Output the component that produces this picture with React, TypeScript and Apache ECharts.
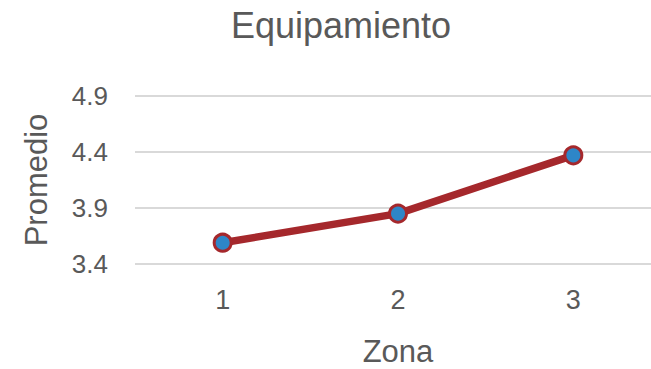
import React, { useEffect, useRef } from "react";
import * as echarts from "echarts";

const categories = ["1", "2", "3"];
const promedio = [3.59, 3.85, 4.37];
const yMin = 3.4;
const yMax = 4.9;
const yStep = 0.5;

const TEXT = "#595959";
const FONT = "'Liberation Sans', Arial, Helvetica, sans-serif";

export default function App() {
  const ref = useRef<HTMLDivElement>(null);
  useEffect(() => {
    if (!ref.current) return;
    const chart = echarts.init(ref.current, undefined, { renderer: "svg" });
    chart.setOption({
      animation: false,
      backgroundColor: "#ffffff",
      textStyle: { fontFamily: FONT },
      title: {
        text: "Equipamiento",
        left: 336,
        top: 2,
        textAlign: "center",
        textStyle: { fontSize: 36, fontWeight: "normal", color: TEXT, fontFamily: FONT },
      },
      grid: { left: 135, top: 96, width: 526, bottom: 105, containLabel: false },
      xAxis: {
        type: "category",
        data: categories,
        boundaryGap: true,
        name: "Zona",
        nameLocation: "middle",
        nameGap: 72,
        nameTextStyle: { fontSize: 31, color: TEXT, fontFamily: FONT },
        axisLine: { show: false },
        axisTick: { show: false },
        axisLabel: { fontSize: 27, color: TEXT, margin: 22, fontFamily: FONT },
      },
      yAxis: {
        type: "value",
        min: yMin,
        max: yMax,
        interval: yStep,
        name: "Promedio",
        nameLocation: "middle",
        nameGap: 83,
        nameTextStyle: { fontSize: 31, color: TEXT, fontFamily: FONT },
        axisLine: { show: false },
        axisTick: { show: false },
        axisLabel: {
          fontSize: 26,
          color: TEXT,
          margin: 27,
          fontFamily: FONT,
          formatter: (v: number) => v.toFixed(1),
        },
        splitLine: { lineStyle: { color: "#d9d9d9", width: 2 } },
      },
      series: [
        {
          type: "line",
          data: promedio,
          symbol: "circle",
          symbolSize: 17,
          lineStyle: { color: "#A5282C", width: 7.5 },
          itemStyle: { color: "#2E86C8", borderColor: "#A5282C", borderWidth: 3 },
        },
      ],
    });
    return () => chart.dispose();
  }, []);
  return (
    <div style={{ width: 651, height: 369, position: "absolute", left: 0, top: 0, overflow: "hidden", background: "#fff" }}>
      <div ref={ref} style={{ width: 700, height: 369 }} />
    </div>
  );
}
